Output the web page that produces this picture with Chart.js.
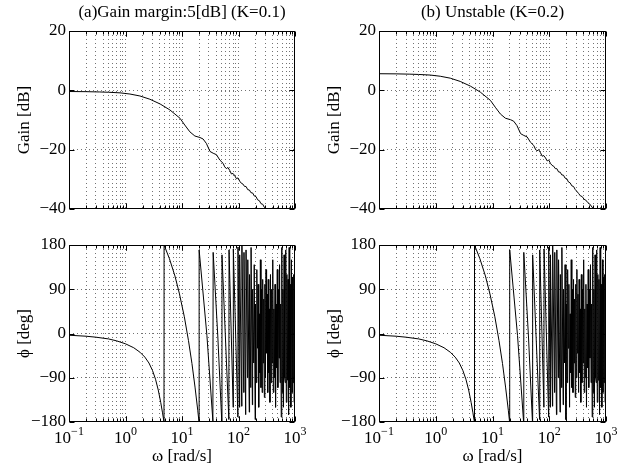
<!DOCTYPE html>
<html>
<head>
<meta charset="utf-8">
<script src="https://cdn.jsdelivr.net/npm/chart.js@4.4.1/dist/chart.umd.min.js"></script>
<style>
  body { margin: 0; background: #fff; width: 639px; height: 475px; position: relative; overflow: hidden; }
  .panel { position: absolute; }
</style>
</head>
<body>
<div class="panel" style="left:0;top:0"><canvas id="gainA" width="320" height="228"></canvas></div>
<div class="panel" style="left:310px;top:0"><canvas id="gainB" width="329" height="228"></canvas></div>
<div class="panel" style="left:0;top:228px"><canvas id="phaseA" width="320" height="247"></canvas></div>
<div class="panel" style="left:310px;top:228px"><canvas id="phaseB" width="329" height="247"></canvas></div>
<script>
// titles and axis text
const titleA = "(a)Gain margin:5[dB] (K=0.1)";
const titleB = "(b) Unstable (K=0.2)";
const xTitle = "ω [rad/s]";
const gainTitle = "Gain [dB]";
const phaseTitle = "ϕ [deg]";

// x tick labels (decades) and dotted grid positions
const xDecades = [0.1, 1, 10, 100, 1000];
const xDecadeExp = ["−1", "0", "1", "2", "3"];
const xGridValues = [0.2, 0.3, 0.4, 0.5, 0.6, 0.7, 0.8, 0.9, 1, 2, 3, 4, 5, 6, 7, 8, 9, 10,
  20, 30, 40, 50, 60, 70, 80, 90, 100, 200, 300, 400, 500, 600, 700, 800, 900];

// gain curves
const freqGain = [0.1, 0.2, 0.35, 0.5, 0.8, 1.2, 1.8, 2.7, 4.1, 6.1, 9.2, 11.2, 13.8, 16.9, 20.8,
  23.6, 27, 31.3, 35.6, 40.8, 46.7, 53.4, 57, 61, 65, 70, 75, 80, 86, 92, 98, 105, 112, 120, 128,
  136, 146, 156, 166, 178, 190, 204, 218, 234, 250, 268, 286, 305, 330, 355, 380, 410, 440, 475,
  510, 550, 590, 640];
const gainA = [-0.4, -0.45, -0.55, -0.65, -0.85, -1.25, -1.9, -3.0, -4.6, -6.6, -9.4, -11.7, -14.0,
  -15.4, -15.9, -16.4, -17.9, -20.6, -21.2, -21.7, -23.5, -24.6, -25.8, -26.4, -26.0, -27.0, -28.2,
  -28.0, -28.8, -29.8, -29.5, -30.6, -31.3, -31.6, -32.4, -32.4, -33.5, -33.6, -34.5, -34.6, -35.6,
  -35.8, -36.9, -37.2, -38.2, -38.4, -39.4, -40.0, -40.8];
const gainB = [5.6, 5.55, 5.45, 5.35, 5.15, 4.75, 4.1, 3.0, 1.4, -0.6, -3.4, -5.7, -8.0, -9.4, -9.9,
  -10.4, -11.9, -14.6, -15.2, -15.7, -17.5, -18.6, -19.8, -20.4, -20.0, -21.0, -22.2, -22.0, -22.8,
  -23.8, -23.5, -24.6, -25.3, -25.6, -26.4, -26.4, -27.5, -27.6, -28.5, -28.6, -29.6, -29.8, -30.9,
  -31.2, -32.2, -32.4, -33.4, -34.0, -34.8, -35.6, -35.8, -36.7, -37.0, -37.8, -38.2, -39.0, -39.8,
  -40.6];

// phase curve (same in both panels)
const freqPhase = [0.1, 0.2, 0.3, 0.5, 0.7, 1.0, 1.4, 1.8, 2.2, 2.6, 3.0, 3.4, 3.8, 4.2, 4.5, 4.8,
  4.82, 6, 7.5, 9, 11, 13, 15, 17, 19, 20,
  20.1, 27.6, 35.2, 35.6, 43, 50.5, 51, 67.5, 68, 80.5, 81, 97.5,
  98, 104, 105, 114, 115, 124, 125, 134, 136, 144, 146, 155, 157, 165, 167, 176, 178, 186, 190, 197,
  200, 207, 211, 217, 222, 228, 233, 239, 244, 250, 256, 262, 268, 274, 280, 287, 293, 300, 307, 314,
  321, 329, 336, 344, 352, 360, 368, 377, 386, 395, 404, 413, 423, 433, 443, 453, 464, 475, 486, 497,
  509, 521, 533, 545, 558, 571, 584, 598, 612, 626, 641, 656, 671, 686, 702, 719, 735, 752, 770, 788,
  806, 825, 845, 865, 885, 905, 926, 948, 970, 1000];
const phase = [-3.5, -5.5, -7.5, -11, -15, -21, -29, -38, -48, -60, -75, -93, -115, -140, -160, -180,
  180, 152, 117, 81, 34, -14, -61, -109, -156, -180,
  170, -4, -178, 165, -5, -178, 160, -175, 170, -150, 172, -170,
  176, -150, 160, -148, 178, -120, 165, -165, 170, -90, 150, -160, 120, -110, 175, -145, 90, -60, 140, -175,
  60, -100, 130, -30, 100, -150, 40, -80, 150, -110, 90, -120, 110, -60, 70, -130, 100, -90, 130, -40,
  80, -120, 110, -80, 50, -140, 120, -100, 90, -60, 150, -120, 50, -90, 100, -150, 60, -70, 130, -110,
  90, -50, 140, -100, 60, -170, 175, -120, 90, -150, 160, -90, -100, 170, -140, 120, -95, 110, -165, 175,
  -110, 100, -150, 150, -120, 115, -100, 120, -140, 125];

const serif = '"Liberation Serif", "Times New Roman", serif';
const dotColor = "rgba(0,0,0,0.55)";

// frame, inward ticks, title and decade labels
const bodePlugin = {
  id: "bode",
  afterDraw(chart, args, opts) {
    const { ctx, chartArea: a, scales: { x, y } } = chart;
    const L = Math.round(a.left) + 0.5, R = Math.round(a.right) - 0.5;
    const T = Math.round(a.top) + 0.5, B = Math.round(a.bottom) - 0.5;
    ctx.save();
    ctx.strokeStyle = "#000";
    ctx.lineWidth = 1;
    ctx.beginPath();
    xGridValues.concat(xDecades).forEach(v => {
      const px = Math.round(x.getPixelForValue(v)) + 0.5;
      const len = xDecades.includes(v) ? 5 : 3;
      ctx.moveTo(px, B); ctx.lineTo(px, B - len);
      ctx.moveTo(px, T); ctx.lineTo(px, T + len);
    });
    y.ticks.forEach(t => {
      const py = Math.round(y.getPixelForValue(t.value)) + 0.5;
      ctx.moveTo(L, py); ctx.lineTo(L + 5, py);
      ctx.moveTo(R, py); ctx.lineTo(R - 5, py);
    });
    ctx.stroke();
    ctx.strokeRect(L, T, R - L, B - T);

    ctx.fillStyle = "#000";
    const cx = (a.left + a.right) / 2;
    if (opts.title) {
      ctx.font = "17px " + serif;
      ctx.textAlign = "center";
      ctx.textBaseline = "middle";
      ctx.fillText(opts.title, cx, a.top - 18);
    }
    if (opts.xLabels) {
      ctx.textBaseline = "alphabetic";
      ctx.textAlign = "left";
      xDecades.forEach((v, i) => {
        const px = x.getPixelForValue(v);
        ctx.font = "17px " + serif;
        const w1 = ctx.measureText("10").width;
        ctx.font = "12px " + serif;
        const w2 = ctx.measureText(xDecadeExp[i]).width;
        const left = px - (w1 + w2) / 2;
        ctx.font = "17px " + serif;
        ctx.fillText("10", left, a.bottom + 21);
        ctx.font = "12px " + serif;
        ctx.fillText(xDecadeExp[i], left + w1, a.bottom + 13);
      });
      ctx.font = "17px " + serif;
      ctx.textAlign = "center";
      ctx.fillText(xTitle, cx, a.bottom + 39);
    }
    ctx.restore();
  }
};

function makePanel(id, freq, values, yMin, yMax, yStep, yTitle, pluginOpts, pad) {
  const points = values.map((v, i) => ({ x: freq[i], y: v }));
  return new Chart(document.getElementById(id), {
    type: "line",
    data: {
      datasets: [{
        data: points,
        borderColor: "#000",
        borderWidth: 1,
        pointRadius: 0,
        fill: false,
        tension: 0
      }]
    },
    options: {
      responsive: false,
      animation: false,
      events: [],
      layout: { padding: pad },
      plugins: {
        legend: { display: false },
        tooltip: { enabled: false },
        bode: pluginOpts
      },
      scales: {
        x: {
          type: "logarithmic",
          min: 0.1,
          max: 1000,
          afterBuildTicks: scale => { scale.ticks = xGridValues.map(v => ({ value: v })); },
          afterFit: scale => { scale.height = 0; },
          ticks: { display: false },
          border: { display: false, dash: [1, 3] },
          grid: { color: dotColor, lineWidth: 1, drawTicks: false }
        },
        y: {
          min: yMin,
          max: yMax,
          afterFit: scale => { scale.width = 69; },
          ticks: {
            stepSize: yStep,
            padding: 3,
            color: "#000",
            font: { family: serif, size: 17 },
            callback: v => String(v).replace("-", "−")
          },
          title: {
            display: true,
            text: yTitle,
            color: "#000",
            font: { family: serif, size: 17 },
            padding: { top: 14, bottom: 0 }
          },
          border: { display: false, dash: [1, 3] },
          grid: {
            drawTicks: false,
            lineWidth: 1,
            color: c => (c.tick && (c.tick.value === yMin || c.tick.value === yMax)) ? "rgba(0,0,0,0)" : dotColor
          }
        }
      }
    },
    plugins: [bodePlugin]
  });
}

makePanel("gainA", freqGain, gainA, -40, 20, 20, gainTitle, { title: titleA },
  { left: 0, top: 31, right: 25, bottom: 19 });
makePanel("gainB", freqGain, gainB, -40, 20, 20, gainTitle, { title: titleB },
  { left: 0, top: 31, right: 33, bottom: 19 });
makePanel("phaseA", freqPhase, phase, -180, 180, 90, phaseTitle, { xLabels: true },
  { left: 0, top: 17, right: 25, bottom: 53 });
makePanel("phaseB", freqPhase, phase, -180, 180, 90, phaseTitle, { xLabels: true },
  { left: 0, top: 17, right: 33, bottom: 53 });
</script>
</body>
</html>
